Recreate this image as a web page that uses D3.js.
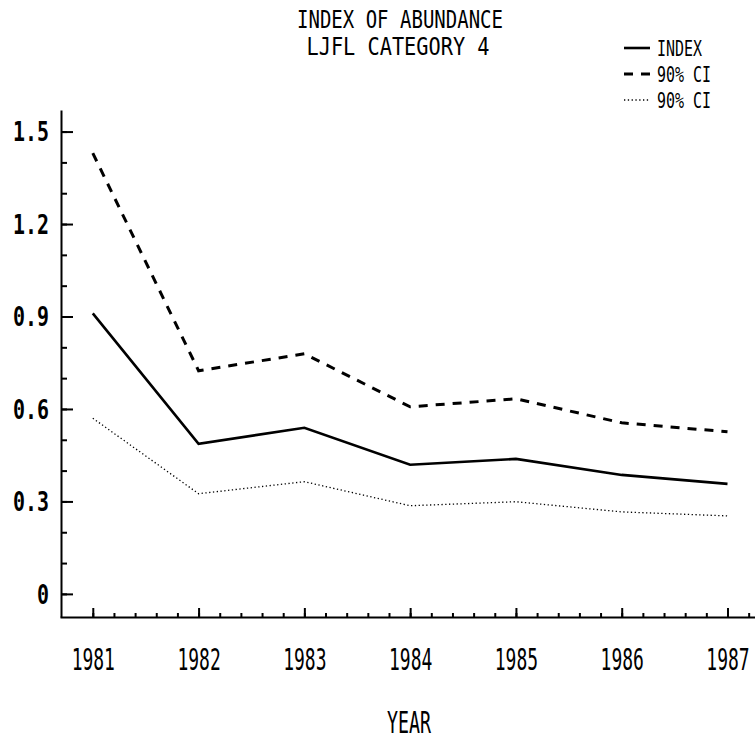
<!DOCTYPE html>
<html>
<head>
    <title>Index of Abundance</title>
    <script src="https://d3js.org/d3.v7.min.js"></script>
    <style>
        body { margin: 0; background: #fff; }
        text {
            font-family: "DejaVu Sans Mono", monospace;
            fill: #000;
        }
        .axis path,
        .axis line {
            fill: none;
            stroke: #000;
            stroke-width: 2;
        }
    </style>
</head>
<body>
<div id="chart"></div>

<script>
    // values
    var years = [1981, 1982, 1983, 1984, 1985, 1986, 1987];
    var indexVals = [0.910, 0.487, 0.539, 0.419, 0.438, 0.386, 0.357];
    var upperCI = [1.430, 0.724, 0.779, 0.607, 0.633, 0.555, 0.526];
    var lowerCI = [0.570, 0.325, 0.364, 0.286, 0.299, 0.266, 0.253];

    var yTicks = [0, 0.3, 0.6, 0.9, 1.2, 1.5];
    var yTickLabels = ["0", "0.3", "0.6", "0.9", "1.2", "1.5"];
    var legendLabels = ["INDEX", "90% CI", "90% CI"];

    var width = 755;
    var height = 742;

    var svg = d3.select("#chart").append("svg")
        .attr("width", width)
        .attr("height", height);

    var x = d3.scaleLinear()
        .domain([1980.69, 1987.26])
        .range([60, 755]);

    var y = d3.scaleLinear()
        .domain([-0.075, 1.57])
        .range([617, 110]);

    // minor ticks on y (every 0.1)
    svg.append("g")
        .attr("class", "axis")
        .attr("transform", "translate(61,0)")
        .call(d3.axisLeft(y).tickValues(d3.range(0, 1.55, 0.1)).tickSize(-6).tickFormat(""))
        .select(".domain").remove();

    // main y axis
    var yAxis = svg.append("g")
        .attr("class", "axis")
        .attr("transform", "translate(61,0)")
        .call(d3.axisLeft(y)
            .tickValues(yTicks)
            .tickSize(-12)
            .tickSizeOuter(0)
            .tickPadding(12)
            .tickFormat(function(d, i) { return yTickLabels[i]; }));
    yAxis.selectAll("text")
        .style("font-size", "26px")
        .style("font-weight", "bold")
        .attr("dy", "0.36em")
        .attr("textLength", function(d, i) { return yTickLabels[i].length > 1 ? 36 : 12; })
        .attr("lengthAdjust", "spacingAndGlyphs");

    // minor ticks on x (every 0.2 year)
    svg.append("g")
        .attr("class", "axis")
        .attr("transform", "translate(0,617)")
        .call(d3.axisBottom(x).tickValues(d3.range(1981, 1987.25, 0.2)).tickSize(-4).tickFormat(""))
        .select(".domain").remove();

    // main x axis
    var xAxis = svg.append("g")
        .attr("class", "axis")
        .attr("transform", "translate(0,617)")
        .call(d3.axisBottom(x)
            .tickValues(years)
            .tickSize(-9)
            .tickSizeOuter(0)
            .tickPadding(31)
            .tickFormat(d3.format("d")));
    // narrow plotter-style digits
    xAxis.selectAll("text")
        .style("font-size", "31px")
        .attr("transform", "scale(0.58,1)");
    xAxis.select(".domain").attr("stroke-width", 2.5);

    var line = d3.line()
        .x(function(d, i) { return x(years[i]); })
        .y(function(d) { return y(d); });

    // upper CI - dashed
    svg.append("path")
        .datum(upperCI)
        .attr("d", line)
        .attr("fill", "none")
        .attr("stroke", "#000")
        .attr("stroke-width", 3)
        .attr("stroke-dasharray", "9,8");

    // index - solid
    svg.append("path")
        .datum(indexVals)
        .attr("d", line)
        .attr("fill", "none")
        .attr("stroke", "#000")
        .attr("stroke-width", 2.6);

    // lower CI - dotted
    svg.append("path")
        .datum(lowerCI)
        .attr("d", line)
        .attr("fill", "none")
        .attr("stroke", "#000")
        .attr("stroke-width", 1.3)
        .attr("stroke-dasharray", "1.3,2.5");

    // titles
    svg.append("text")
        .attr("x", 400).attr("y", 28)
        .attr("text-anchor", "middle")
        .style("font-size", "24px")
        .attr("textLength", 206)
        .attr("lengthAdjust", "spacingAndGlyphs")
        .text("INDEX OF ABUNDANCE");

    svg.append("text")
        .attr("x", 398).attr("y", 55)
        .attr("text-anchor", "middle")
        .style("font-size", "24px")
        .attr("textLength", 183)
        .attr("lengthAdjust", "spacingAndGlyphs")
        .text("LJFL CATEGORY 4");

    svg.append("text")
        .attr("x", 409).attr("y", 733)
        .attr("text-anchor", "middle")
        .style("font-size", "30px")
        .attr("textLength", 44)
        .attr("lengthAdjust", "spacingAndGlyphs")
        .text("YEAR");

    // legend
    var legendStyles = [
        { w: 2.6, dash: null },
        { w: 3, dash: "9,8" },
        { w: 1.3, dash: "1.3,2.5" }
    ];
    var legend = svg.selectAll(".legend")
        .data(legendLabels)
        .enter().append("g")
        .attr("class", "legend")
        .attr("transform", function(d, i) { return "translate(0," + (48 + i * 26) + ")"; });

    legend.append("line")
        .attr("x1", 624).attr("x2", 650)
        .attr("stroke", "#000")
        .attr("stroke-width", function(d, i) { return legendStyles[i].w; })
        .attr("stroke-dasharray", function(d, i) { return legendStyles[i].dash; });

    legend.append("text")
        .attr("x", 657).attr("y", 8)
        .style("font-size", "21px")
        .attr("textLength", function(d) { return d.length * 9; })
        .attr("lengthAdjust", "spacingAndGlyphs")
        .text(function(d) { return d; });
</script>
</body>
</html>
